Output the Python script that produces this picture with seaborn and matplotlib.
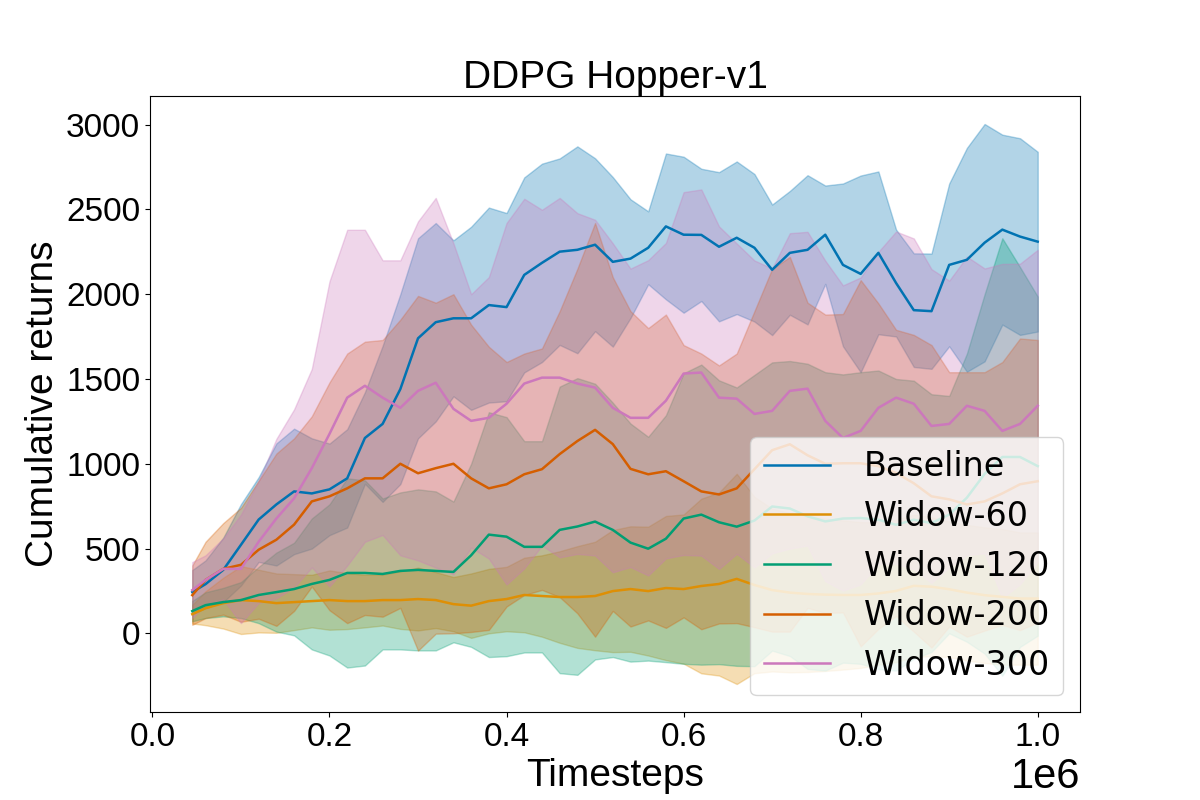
import numpy as np
import pandas as pd
import matplotlib
matplotlib.use("Agg")
import matplotlib.pyplot as plt
import seaborn as sns

# timesteps in thousands
steps_k = [45, 60, 80, 100, 120, 140, 160, 180, 200, 220, 240, 260, 280, 300,
           320, 340, 360, 380, 400, 420, 440, 460, 480, 500, 520, 540, 560, 580,
           600, 620, 640, 660, 680, 700, 720, 740, 760, 780, 800, 820, 840, 860,
           880, 900, 920, 940, 960, 980, 1000]

run_names = ["Baseline", "Widow-60", "Widow-120", "Widow-200", "Widow-300"]

baseline_mean = [243, 290, 374, 522, 671, 760, 837, 825, 849, 914, 1152, 1235, 1440, 1740,
                 1835, 1858, 1858, 1936, 1924, 2114, 2185, 2251, 2262, 2292, 2191, 2210, 2274, 2400,
                 2351, 2350, 2280, 2333, 2274, 2144, 2244, 2262, 2351, 2173, 2120, 2244, 2066, 1906,
                 1900, 2173, 2203, 2304, 2381, 2340, 2310]
baseline_std = [130, 140, 190, 240, 250, 360, 370, 325, 270, 290, 270, 460, 560, 590,
                585, 460, 540, 575, 555, 575, 585, 550, 610, 510, 500, 350, 215, 430,
                460, 390, 440, 450, 435, 385, 365, 440, 290, 480, 580, 480, 315, 335,
                340, 480, 660, 700, 560, 580, 530]

w60_mean = [113, 148, 178, 196, 190, 178, 184, 190, 196, 190, 190, 196, 196, 202,
            196, 172, 163, 190, 202, 226, 220, 214, 214, 220, 249, 261, 249, 267,
            261, 279, 291, 321, 285, 255, 240, 232, 228, 226, 226, 235, 250, 280,
            275, 260, 240, 225, 215, 205, 205]
w60_std = [55, 100, 150, 200, 185, 175, 165, 155, 175, 165, 155, 150, 170, 185,
           165, 160, 190, 190, 190, 220, 240, 270, 300, 320, 360, 370, 380, 425,
           440, 515, 540, 620, 520, 480, 470, 460, 450, 440, 430, 420, 420, 420,
           410, 400, 400, 400, 400, 390, 390]

w120_mean = [131, 166, 184, 196, 226, 243, 261, 291, 315, 356, 356, 350, 368, 374,
             368, 362, 460, 582, 570, 510, 510, 610, 630, 659, 610, 535, 499, 558,
             677, 700, 655, 629, 665, 748, 736, 690, 660, 677, 680, 670, 640, 670,
             650, 700, 800, 940, 1040, 1040, 986]
w120_std = [60, 76, 84, 106, 166, 233, 273, 386, 446, 558, 546, 445, 463, 475,
            469, 415, 540, 722, 705, 623, 623, 845, 875, 813, 750, 702, 660, 728,
            857, 885, 837, 821, 859, 850, 870, 900, 880, 850, 860, 880, 860, 820,
            760, 700, 850, 1060, 1290, 1120, 1000]

w200_mean = [225, 315, 380, 404, 493, 552, 641, 778, 808, 855, 914, 914, 1000, 944,
             974, 1000, 914, 855, 879, 938, 968, 1057, 1134, 1200, 1116, 970, 938, 956,
             897, 837, 819, 855, 968, 1080, 1115, 1050, 1000, 1003, 1003, 986, 946, 885,
             808, 790, 760, 778, 825, 879, 897]
w200_std = [175, 225, 270, 336, 407, 508, 509, 502, 672, 795, 806, 816, 850, 1046,
            976, 1000, 906, 835, 721, 712, 712, 843, 1016, 1220, 984, 930, 862, 924,
            803, 813, 761, 795, 932, 1070, 1105, 900, 880, 880, 1080, 960, 844, 875,
            892, 750, 780, 762, 775, 860, 833]

w300_mean = [255, 315, 380, 380, 540, 677, 796, 974, 1176, 1390, 1460, 1390, 1330, 1430,
             1478, 1324, 1253, 1271, 1354, 1473, 1508, 1508, 1473, 1449, 1330, 1271, 1271, 1372,
             1532, 1538, 1390, 1384, 1294, 1312, 1430, 1443, 1253, 1152, 1194, 1330, 1390, 1354,
             1223, 1235, 1342, 1312, 1194, 1235, 1342]
w300_std = [165, 145, 180, 320, 360, 470, 525, 585, 900, 990, 920, 810, 870, 1000,
            1090, 976, 747, 830, 1066, 1090, 990, 1060, 1005, 990, 970, 880, 930, 930,
            1070, 1080, 1010, 915, 905, 840, 930, 925, 945, 900, 905, 920, 980, 975,
            925, 845, 880, 840, 985, 945, 920]

means = [baseline_mean, w60_mean, w120_mean, w200_mean, w300_mean]
stds = [baseline_std, w60_std, w120_std, w200_std, w300_std]

timesteps = np.array(steps_k) * 1000

# long-form table for seaborn
frames = []
for name, m in zip(run_names, means):
    frames.append(pd.DataFrame({"timestep": timesteps, "returns": m, "run": name}))
df = pd.concat(frames, ignore_index=True)

plt.rcParams["font.family"] = ["Liberation Sans", "DejaVu Sans"]
plt.rcParams["font.size"] = 28

colors = sns.color_palette("colorblind", 5)

fig, ax = plt.subplots(figsize=(12, 8), dpi=100)

# shaded bands: mean +/- std
for m, s, c in zip(means, stds, colors):
    m = np.array(m)
    s = np.array(s)
    ax.fill_between(timesteps, m - s, m + s, color=c, alpha=0.3, zorder=1)

sns.lineplot(data=df, x="timestep", y="returns", hue="run", hue_order=run_names,
             palette=colors, linewidth=1.8, errorbar=None, legend=False, ax=ax, zorder=3)

ax.set_title("DDPG Hopper-v1", fontsize=28)
ax.set_xlabel("Timesteps", fontsize=28)
ax.set_ylabel("Cumulative returns", fontsize=28)
ax.tick_params(labelsize=24)
ax.xaxis.get_offset_text().set_fontsize(30)

ax.legend(ax.lines[:5], run_names, loc="lower right", handletextpad=1.0,
          prop={"family": "DejaVu Sans", "size": 24})

fig.savefig("out.png", dpi=100)
